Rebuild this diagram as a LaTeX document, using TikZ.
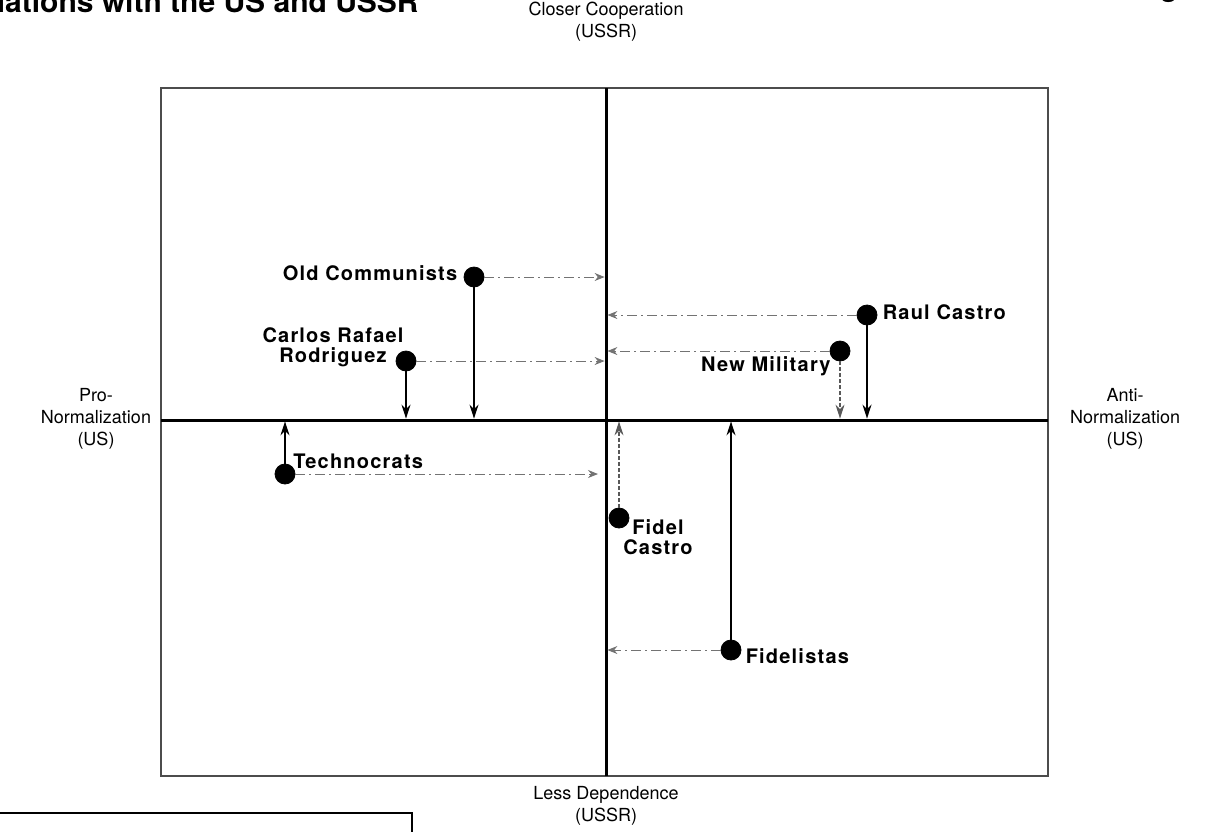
\documentclass[tikz,border=0pt]{standalone}
\usepackage{fontspec}
\setmainfont{TeX Gyre Heros}
\newfontfamily\lblfont[LetterSpace=6]{TeX Gyre Heros}
\usepackage{tikz}
\usetikzlibrary{arrows.meta, positioning}

\begin{document}
\begin{tikzpicture}
  [
    x=0.5pt, y=-0.5pt,
    Dot/.style={circle, draw=black, fill=black, inner sep=0pt, minimum size=10pt},
    Axis/.style={draw=black, line width=1.5pt},
    Frame/.style={draw=black!70, line width=1.2pt},
    Shift/.style={-{Stealth[length=7pt, width=4.5pt]}, draw=black, line width=0.9pt, shorten >=0.7pt},
    Weak/.style={-{Stealth[length=7pt, width=4.5pt]}, draw=black!65, line width=0.6pt, dash pattern=on 2pt off 1pt, shorten >=0.7pt},
    Lean/.style={-{Stealth[length=5pt, width=4pt]}, draw=black!55, line width=0.5pt, dash pattern=on 5pt off 2pt on 1pt off 2pt, shorten >=0.7pt},
    Group/.style={font=\lblfont\bfseries\fontsize{10}{10}\selectfont, align=center, inner sep=0pt},
    Pole/.style={font=\fontsize{9}{11}\selectfont, align=center, inner sep=0pt}
  ]
  \useasboundingbox (0,0) rectangle (1209,831);
  \clip (0,0) rectangle (1209,831);

  % Frame and axes
  \coordinate (nw) at (161,88);
  \coordinate (se) at (1048,776);
  \coordinate (top) at (606,88);
  \coordinate (bot) at (606,776);
  \coordinate (west) at (161,420);
  \coordinate (east) at (1048,420);
  \path[Frame] (nw) rectangle (se);
  \path[Axis] (top) -- (bot);
  \path[Axis] (west) -- (east);

  % Page remains
  \node[font=\bfseries\fontsize{15}{15}\selectfont, anchor=base east, inner sep=0pt] (title) at (419,12) {Relations with the US and USSR};
  \node[font=\bfseries\fontsize{14}{14}\selectfont, anchor=base, inner sep=0pt] (mark) at (1169,-4) {g};
  \draw[line width=1.4pt] (-5,813) -- (412,813) -- (412,840);

  % Poles
  \node[Pole] (closer) at (606,22) {Closer Cooperation\\(USSR)};
  \node[Pole] (less) at (606,806) {Less Dependence\\(USSR)};
  \node[Pole] (pro) at (96,419) {Pro-\\Normalization\\(US)};
  \node[Pole] (anti) at (1125,419) {Anti-\\Normalization\\(US)};

  % Nodes
  \node[Dot] (oc) at (474,277) {};
  \node[Dot] (crr) at (406,361) {};
  \node[Dot] (rc) at (867,315) {};
  \node[Dot] (nm) at (840,351) {};
  \node[Dot] (tec) at (285,474) {};
  \node[Dot] (fc) at (619,518) {};
  \node[Dot] (fid) at (731,650) {};

  \node[Group, left=3pt of oc, yshift=2pt] (ocl) {Old Communists};
  \node[Group] (crrl) at (333,347) {Carlos Rafael\\Rodriguez};
  \node[Group, right=2.5pt of rc, yshift=1.5pt] (rcl) {Raul Castro};
  \node[Group, anchor=east] (nml) at (831,366) {New Military};
  \node[Group, anchor=west] (tecl) at (293,461) {Technocrats};
  \node[Group] (fcl) at (658,537) {Fidel\\Castro};
  \node[Group, right=2pt of fid, yshift=-3pt] (fidl) {Fidelistas};

  % Lines
  \path[Lean] (oc) -- (oc -| top);
  \path[Lean] (crr) -- (crr -| top);
  \path[Lean] (rc) -- (rc -| top);
  \path[Lean] (nm) -- (nm -| top);
  \path[Lean, shorten >=4pt] (tec) -- (tec -| top);
  \path[Lean] (fid) -- (fid -| top);

  \path[Shift] (oc) -- (oc |- west);
  \path[Shift] (crr) -- (crr |- west);
  \path[Shift] (rc) -- (rc |- west);
  \path[Weak] (nm) -- (nm |- west);
  \path[Shift] (tec) -- (tec |- west);
  \path[Weak] (fc) -- (fc |- west);
  \path[Shift] (fid) -- (fid |- west);

\end{tikzpicture}
\end{document}
